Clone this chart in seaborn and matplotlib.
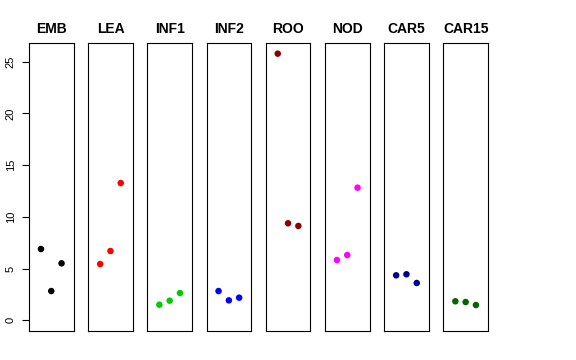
import numpy as np
import pandas as pd
import matplotlib
matplotlib.use("Agg")
import matplotlib.pyplot as plt
import seaborn as sns

# panel names and colours
tissues = ["EMB", "LEA", "INF1", "INF2", "ROO", "NOD", "CAR5", "CAR15"]
colors = ["#000000", "#FF0000", "#00CD00", "#0000FF",
          "#8B0000", "#FF00FF", "#00008B", "#006400"]

# three replicate values per tissue
emb = [6.89, 2.83, 5.51]
lea = [5.44, 6.70, 13.27]
inf1 = [1.51, 1.90, 2.64]
inf2 = [2.83, 1.93, 2.19]
roo = [25.77, 9.38, 9.12]
nod = [5.83, 6.31, 12.82]
car5 = [4.35, 4.45, 3.61]
car15 = [1.84, 1.77, 1.48]
values = [emb, lea, inf1, inf2, roo, nod, car5, car15]
replicate = [1, 2, 3]
y_ticks = [0, 5, 10, 15, 20, 25]

sns.set_style("white")
plt.rcParams['font.family'] = ['Liberation Sans', 'DejaVu Sans']
plt.rcParams['text.color'] = 'black'
plt.rcParams['ytick.color'] = 'black'
plt.rcParams['ytick.labelcolor'] = 'black'

W, H = 576, 360
fig = plt.figure(figsize=(W / 100, H / 100), dpi=100)

ymax = max(max(v) for v in values)
pad = 0.04 * ymax
left0, step, pw = 29, 59.2, 44.5
top, bottom = 43, 331

for i, (name, col, vals) in enumerate(zip(tissues, colors, values)):
    x0 = left0 + i * step
    ax = fig.add_axes([x0 / W, 1 - bottom / H, pw / W, (bottom - top) / H])
    df = pd.DataFrame({"rep": replicate, "val": vals})
    sns.scatterplot(data=df, x="rep", y="val", color=col, s=22,
                    edgecolor="none", ax=ax)
    ax.set_xlim(-0.16, 4.16)
    ax.set_ylim(-pad, ymax + pad)
    ax.set_xlabel("")
    ax.set_ylabel("")
    ax.set_xticks([])
    ax.set_title(name, fontsize=10, fontweight="bold", pad=7, color="black")
    for sp in ax.spines.values():
        sp.set_visible(True)
        sp.set_color("black")
        sp.set_linewidth(0.8)
    if i == 0:
        ax.set_yticks(y_ticks)
        ax.set_yticklabels([str(t) for t in y_ticks], rotation=90,
                           va="center", fontsize=8)
        ax.tick_params(axis="y", left=True, length=5, width=0.8, pad=4.5,
                       colors="black")
    else:
        ax.set_yticks([])

fig.savefig("out.png", dpi=100)
